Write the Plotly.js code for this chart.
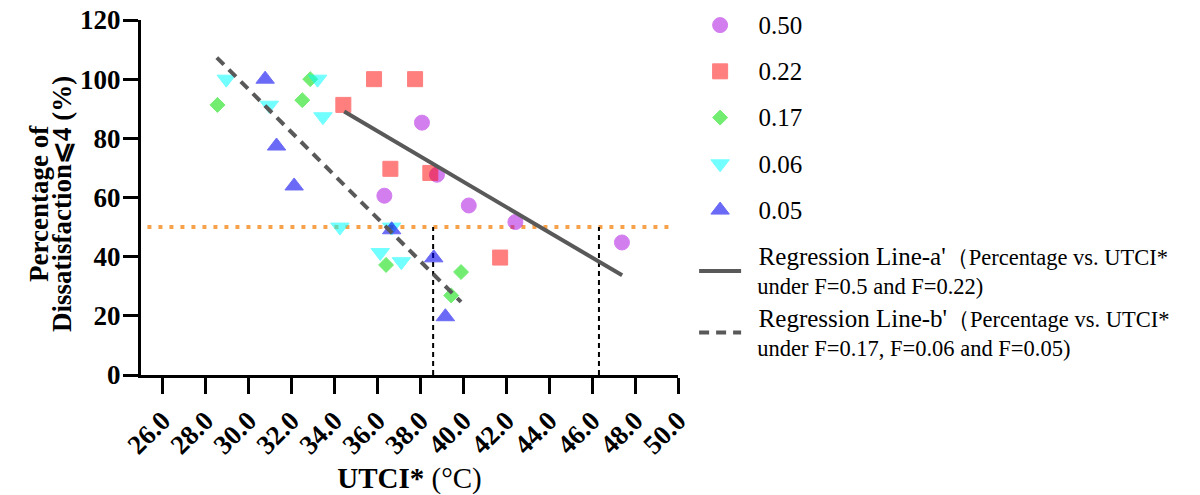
<!DOCTYPE html>
<html>
<head>
<meta charset="utf-8">
<script src="https://cdn.plot.ly/plotly-3.0.1.min.js"></script>
<style>html,body{margin:0;padding:0;background:#fff;}#chart{width:1200px;height:495px;}</style>
</head>
<body>
<div id="chart"></div>
<script>
// ---- data ----
const utci_050 = [38.08, 38.78, 36.33, 40.26, 42.43, 47.39];
const pct_050  = [85.3, 67.7, 60.6, 57.3, 51.7, 44.8];
const utci_022 = [34.42, 35.85, 37.76, 36.61, 38.47, 41.72];
const pct_022  = [91.3, 100, 100, 69.7, 68.3, 39.7];
const utci_017 = [28.56, 32.88, 32.51, 36.41, 39.90, 39.44];
const pct_017  = [91.3, 100, 92.9, 37.2, 34.8, 26.9];
const utci_006 = [28.97, 30.97, 33.22, 33.47, 34.26, 36.67, 36.14, 37.12];
const pct_006  = [100, 91.2, 100, 87.3, 50, 50, 41.4, 38.3];
const utci_005 = [30.78, 31.31, 32.13, 36.67, 38.63, 39.17];
const pct_005  = [100, 77.4, 63.9, 49.1, 39.6, 19.7];

const regA_x = [34.46, 47.40];
const regA_y = [89.05, 33.7];
const regB_x = [28.53, 39.90];
const regB_y = [107.3, 24.7];

const threshold = 50;
const thresholdSpan = [25.3, 49.6];
const crossX = [38.6, 46.32];

const seriesNames = ['0.50', '0.22', '0.17', '0.06', '0.05'];
const xTickVals = [26, 28, 30, 32, 34, 36, 38, 40, 42, 44, 46, 48, 50];
const yTickVals = [0, 20, 40, 60, 80, 100, 120];

const FONT = 'Liberation Serif, Times New Roman, serif';
const NB = '\u00a0\u00a0';
const big = s => '<span style="font-size:25px">' + NB + s + '</span>';

function pts(x, y, name, symbol, size, color, op, grp) {
  return {
    type: 'scatter', mode: 'markers', x: x, y: y, name: big(name),
    legendgroup: grp,
    marker: {symbol: symbol, size: size, color: color, opacity: op,
             line: {color: color, width: 1}},
    hoverinfo: 'x+y'
  };
}

const traces = [
  pts(utci_050, pct_050, seriesNames[0], 'circle', 15, '#A800E0', 0.5, 'g1'),
  pts(utci_022, pct_022, seriesNames[1], 'square', 15, '#FF0000', 0.5, 'g2'),
  pts(utci_017, pct_017, seriesNames[2], 'diamond', 11.5, '#00E000', 0.55, 'g3'),
  pts(utci_006, pct_006, seriesNames[3], 'triangle-down', 16, '#00FFFF', 0.55, 'g4'),
  pts(utci_005, pct_005, seriesNames[4], 'triangle-up', 16, '#0000F0', 0.58, 'g5'),
  {
    type: 'scatter', mode: 'lines', x: regA_x, y: regA_y, legendgroup: 'g6',
    name: big("Regression Line-a'") + '（Percentage vs. UTCI*<br>' + NB + 'under F=0.5 and F=0.22)',
    line: {color: '#595959', width: 4}
  },
  {
    type: 'scatter', mode: 'lines', x: regB_x, y: regB_y, legendgroup: 'g6',
    name: big("Regression Line-b'") + '（Percentage vs. UTCI*<br>' + NB + 'under F=0.17, F=0.06 and F=0.05)',
    line: {color: '#595959', width: 4, dash: '10px,7px'}
  }
];

const shapes = [
  {type: 'line', xref: 'x', yref: 'y', x0: thresholdSpan[0], x1: thresholdSpan[1], y0: threshold, y1: threshold,
   line: {color: '#F7A14A', width: 4, dash: '4px,7px'}, layer: 'below'}
].concat(crossX.map(cx => ({
  type: 'line', xref: 'x', yref: 'y', x0: cx, x1: cx, y0: 0, y1: threshold,
  line: {color: '#000000', width: 2, dash: '5px,4px'}, layer: 'below'
})));

const layout = {
  width: 1200, height: 495,
  paper_bgcolor: '#ffffff', plot_bgcolor: '#ffffff',
  margin: {l: 141, r: 522, t: 20, b: 120, pad: 0, autoexpand: false},
  font: {family: FONT, color: '#000'},
  showlegend: true,
  legend: {
    x: 1.03, xanchor: 'left', yref: 'container', y: 0.992, yanchor: 'top', maxheight: 490,
    font: {family: FONT, size: 22.5, color: '#000'},
    itemwidth: 42, tracegroupgap: 14, traceorder: 'grouped',
    bgcolor: 'rgba(0,0,0,0)', borderwidth: 0
  },
  xaxis: {
    range: [25, 50], tickvals: xTickVals, tickformat: '.1f', tickangle: -45,
    showline: true, linecolor: '#000', linewidth: 3,
    ticks: 'outside', ticklen: 16, tickwidth: 3, tickcolor: '#000',
    showgrid: false, zeroline: false,
    tickfont: {family: FONT, size: 27, weight: 'bold', color: '#000'},
    title: {text: '<b>UTCI*</b> (°C)', font: {family: FONT, size: 29, color: '#000'}, standoff: 17}
  },
  yaxis: {
    range: [0, 120], tickvals: yTickVals,
    showline: true, linecolor: '#000', linewidth: 3,
    ticks: 'outside', ticklen: 15, tickwidth: 3, tickcolor: '#000',
    ticklabelstandoff: -3,
    showgrid: false, zeroline: false,
    tickfont: {family: FONT, size: 27, weight: 'bold', color: '#000'},
    title: {text: ''}
  },
  annotations: [
    {xref: 'paper', yref: 'paper', x: 0, y: 0.482, xshift: -102, textangle: -90,
     xanchor: 'center', yanchor: 'middle', showarrow: false,
     text: '<b>Percentage of</b>', font: {family: FONT, size: 27, color: '#000'}},
    {xref: 'paper', yref: 'paper', x: 0, y: 0.482, xshift: -79, textangle: -90,
     xanchor: 'center', yanchor: 'middle', showarrow: false,
     text: '<b>Dissatisfaction⩽4 (%)</b>', font: {family: FONT, size: 27, color: '#000'}}
  ],
  shapes: shapes
};

Plotly.newPlot('chart', traces, layout, {displayModeBar: false, staticPlot: true});
</script>
</body>
</html>
